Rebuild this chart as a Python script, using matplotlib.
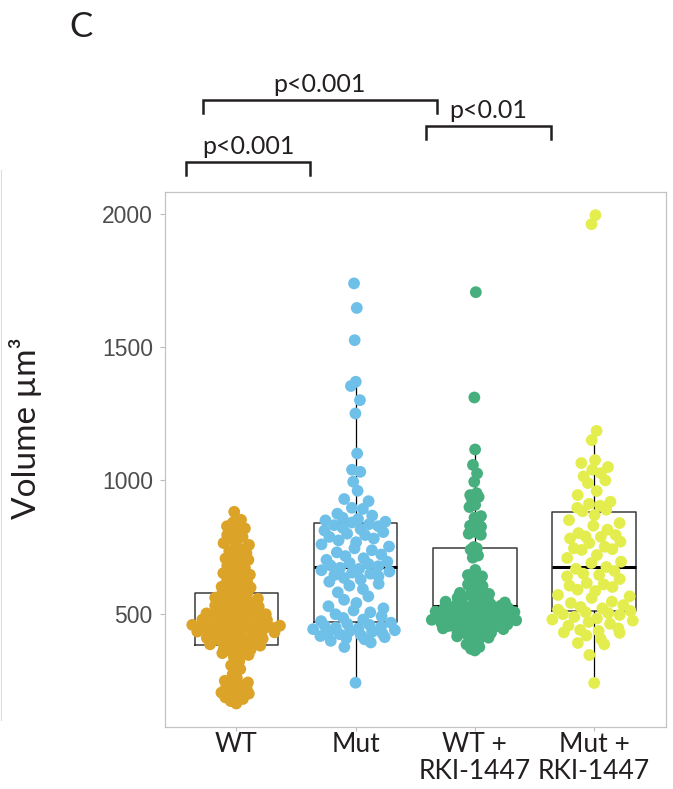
import numpy as np
import matplotlib.pyplot as plt
from matplotlib.lines import Line2D

plt.rcParams['font.family'] = ['Lato', 'DejaVu Sans']

groups = ['WT', 'Mut', 'WT +\nRKI-1447', 'Mut +\nRKI-1447']
colors = ['#DBA327', '#6FC0E9', '#46AF7D', '#E3EE4E']

# cell volumes
wt = [882, 852, 842, 835, 828, 820, 812, 805, 795, 788, 780, 772, 765, 758,
      748, 742, 735, 728, 720, 714, 707, 702, 695, 688, 680, 672, 665, 658, 652,
      646, 640, 633, 625, 618, 612, 606, 601, 598, 592, 587, 581, 576, 570, 565,
      560, 556, 552, 548, 545, 541, 537, 533, 530, 526, 522, 518, 515, 511, 508,
      504, 501, 498, 495, 492, 490, 487, 484, 481, 478, 476, 473, 470, 468, 465,
      462, 460, 458, 455, 453, 451, 451, 452, 450, 448, 447, 446, 445, 444, 442,
      440, 438, 436, 433, 430, 427, 424, 421, 418, 415, 412, 409, 406, 404, 402,
      400, 397, 393, 389, 385, 380, 376, 372, 368, 364, 360, 356, 352, 345, 336,
      322, 306, 292, 272, 258, 248, 242, 236, 230, 224, 218, 212, 208, 204, 200,
      196, 191, 186, 180, 172, 163]
mut = [1739, 1647, 1526, 1370, 1354, 1301, 1251, 1101, 1040, 1032, 995, 961,
       930, 922, 897, 893, 875, 868, 860, 855, 850, 845, 842, 836, 832, 828, 822,
       817, 812, 806, 800, 795, 788, 782, 775, 768, 760, 752, 745, 738, 730, 722,
       716, 708, 702, 695, 690, 686, 681, 678, 672, 668, 663, 658, 654, 650, 645,
       640, 634, 628, 620, 612, 605, 592, 580, 565, 552, 540, 528, 520, 512, 505,
       498, 490, 484, 478, 472, 466, 462, 458, 455, 451, 448, 445, 442, 438, 435,
       432, 429, 426, 423, 420, 416, 412, 408, 404, 398, 392, 375, 241]
wt_rki = [1706, 1311, 1116, 1058, 1026, 995, 952, 945, 938, 932, 908, 900, 866,
          860, 852, 830, 826, 820, 805, 800, 796, 750, 745, 740, 718, 710, 664,
          645, 640, 635, 615, 610, 604, 600, 582, 578, 574, 570, 566, 560, 556,
          552, 548, 545, 542, 539, 536, 533, 530, 528, 526, 524, 522, 520, 518,
          516, 514, 512, 510, 508, 506, 504, 502, 500, 499, 497, 495, 493, 491,
          489, 487, 485, 483, 481, 479, 477, 475, 474, 472, 470, 468, 466, 464,
          462, 460, 458, 456, 454, 452, 450, 448, 445, 442, 438, 435, 432, 428,
          426, 420, 415, 410, 405, 400, 385, 375, 368, 362]
mut_rki = [1995, 1961, 1186, 1151, 1076, 1065, 1050, 1040, 1027, 1015, 1000, 990,
           960, 945, 920, 912, 905, 897, 890, 884, 870, 851, 840, 830, 815, 802,
           795, 790, 788, 782, 770, 765, 751, 745, 742, 739, 720, 709, 695, 690,
           675, 668, 660, 650, 645, 640, 630, 615, 610, 605, 600, 590, 585, 570,
           565, 559, 545, 540, 532, 525, 520, 515, 510, 505, 502, 498, 495, 488,
           482, 478, 474, 469, 462, 455, 445, 439, 435, 430, 428, 418, 405, 390,
           385, 345, 240]
values = [wt, mut, wt_rki, mut_rki]

# box statistics
q1 = [383, 468, 475, 511]
med = [450, 676, 530, 676]
q3 = [576, 839, 747, 880]
whislo = [163, 241, 362, 240]
whishi = [852, 1370, 1116, 1186]

# significance brackets
br_x1 = [-0.42, -0.28, 1.59]
br_x2 = [0.62, 1.68, 2.64]
br_y = [2194, 2426, 2328]
br_labels = ['p<0.001', 'p<0.001', 'p<0.01']


def vdc(n, base=2):
    out = []
    for k in range(1, n + 1):
        q, den, x = k, 1, 0.0
        while q:
            den *= base
            q, r = divmod(q, base)
            x += r / den
        out.append(x)
    return np.array(out)


def quasirandom(v, width=0.38, adjust=0.5):
    # like ggbeeswarm::geom_quasirandom: density scaled van der Corput offsets
    v = np.asarray(v, dtype=float)
    n = len(v)
    iqr = np.subtract(*np.percentile(v, [75, 25]))
    bw = 0.9 * min(v.std(ddof=1), iqr / 1.34) * n ** -0.2 * adjust
    dens = np.exp(-0.5 * ((v[:, None] - v[None, :]) / bw) ** 2).sum(axis=1)
    dens = dens / dens.max()
    rank = np.argsort(np.argsort(v, kind='stable'), kind='stable')
    off = (vdc(n)[rank] - 0.5) * 2
    return off * width * dens


fig = plt.figure(figsize=(6.73, 7.89), dpi=100)
W, H = 673, 789
ax = fig.add_axes([164.7 / W, 1 - 726.7 / H, 501 / W, 535 / H])
ax.set_xlim(-0.6, 3.6)
ax.set_ylim(76, 2083)

stats = []
for i in range(4):
    stats.append(dict(q1=q1[i], med=med[i], q3=q3[i], whislo=whislo[i], whishi=whishi[i]))
ax.bxp(stats, positions=range(4), widths=0.7, showfliers=False, showcaps=False,
       boxprops=dict(color='#3a3a3a', lw=1.1),
       medianprops=dict(color='black', lw=2.2),
       whiskerprops=dict(color='black', lw=0.9))

for i in range(4):
    v = values[i]
    ax.scatter(i + quasirandom(v), v, s=72, color=colors[i], edgecolors='none', zorder=3)

for sp in ax.spines.values():
    sp.set_color('#C4C4C4')
    sp.set_linewidth(0.9)

ax.set_yticks([500, 1000, 1500, 2000])
ax.tick_params(axis='y', length=3.6, width=0.8, color='#BDBDBD', pad=5,
               labelsize=16.5, labelcolor='#4D4D4D', labelfontfamily='Liberation Sans')
ax.set_xticks(range(4))
ax.set_xticklabels(groups, fontsize=19, color='#231F20', linespacing=1.1)
ax.tick_params(axis='x', length=3, width=0.8, color='#BDBDBD', pad=1)

ax.set_ylabel('Volume µm³', fontsize=24, color='#231F20')
ax.yaxis.set_label_coords(-0.245, 0.558)

for x1, x2, y, lab in zip(br_x1, br_x2, br_y, br_labels):
    ax.plot([x1, x1, x2, x2], [y - 48, y, y, y - 48], color='#231F20', lw=1.8,
            clip_on=False, solid_joinstyle='miter')
    ax.text((x1 + x2) / 2, y + 60, lab, ha='center', va='center', fontsize=18,
            color='#231F20', clip_on=False)

fig.text(81 / W, 1 - 27 / H, 'C', ha='center', va='center', fontsize=25, color='#231F20')
fig.add_artist(Line2D([1 / W, 1 / W], [1 - 170 / H, 1 - 720 / H], color='#DDDDDD', lw=0.8))

fig.savefig('out.png', dpi=100)
